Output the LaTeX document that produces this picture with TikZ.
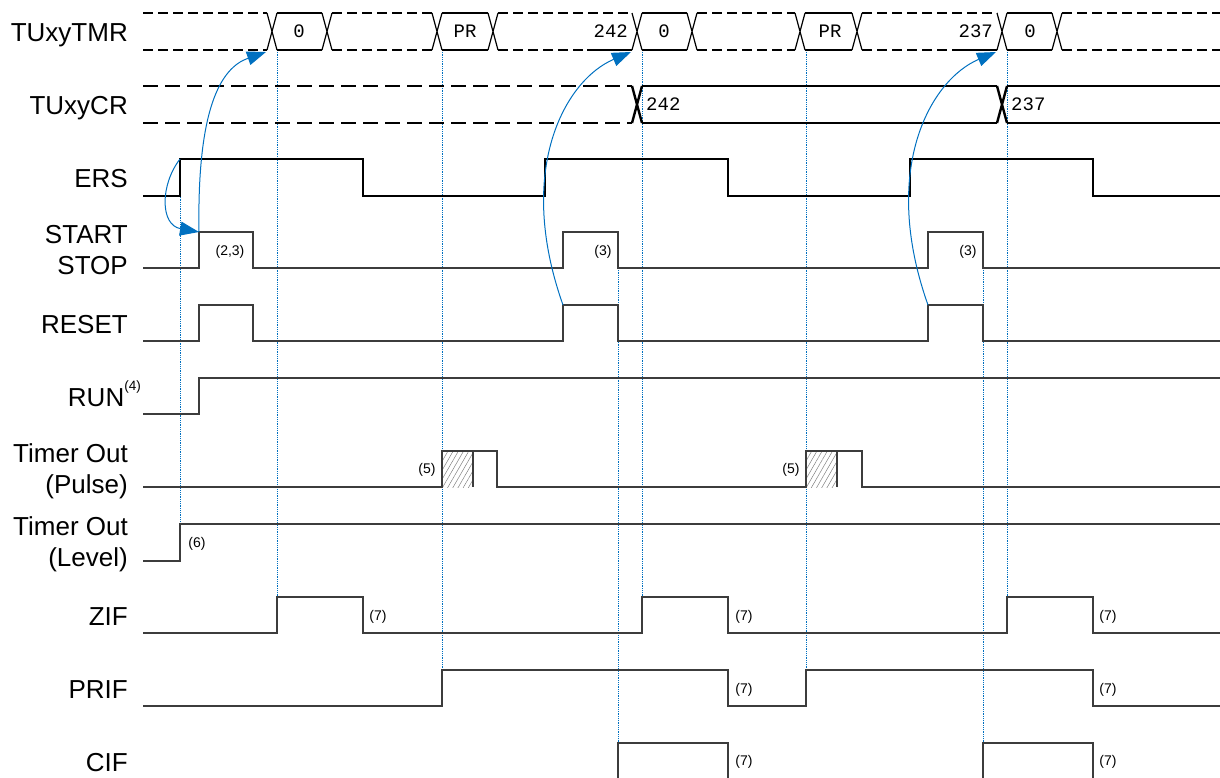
\documentclass[tikz,border=0pt]{standalone}
\usepackage{fontspec}
\setmainfont{Liberation Sans}
\setmonofont{Liberation Mono}
\usetikzlibrary{arrows.meta,patterns.meta}
\definecolor{tiblue}{RGB}{0,112,192}
\definecolor{wave}{RGB}{60,60,60}

\begin{document}
\begin{tikzpicture}[
    x=1pt, y=-1pt,
    lbl/.style={anchor=base east, inner sep=0pt, font=\fontsize{26}{31}\selectfont},
    lbltwo/.style={anchor=east, align=right, inner sep=0pt, font=\fontsize{26}{31}\selectfont},
    note/.style={inner sep=0pt, font=\fontsize{14}{15}\selectfont},
    val/.style={inner sep=0pt, font=\fontsize{19}{20}\selectfont\ttfamily},
    wire/.style={draw=wave, line width=1.2pt},
    thickwire/.style={draw=black, line width=2.4pt},
    buswire/.style={draw=black, line width=1.2pt},
    busdash/.style={buswire, dash pattern=on 10pt off 5pt},
    crdash/.style={thickwire, dash pattern=on 15pt off 7pt},
    guide/.style={draw=tiblue, line width=0.8pt, densely dotted},
    link/.style={draw=tiblue, line width=1pt, -{Triangle[length=19pt,width=14pt]}},
    hatched/.style={pattern={Lines[angle=60,distance=4.5pt,line width=0.5pt]}, pattern color=gray}
  ]
  \useasboundingbox (0,0) rectangle (1220,777);
  \clip (0,0) rectangle (1220,777);

  % signal names
  \node[lbl] (tmr) at (128,41) {TUxyTMR};
  \node[lbl] (cr) at (128,114) {TUxyCR};
  \node[lbl] (ers) at (128,187) {ERS};
  \node[lbltwo] (ss) at (128,250.5) {START\\STOP};
  \node[lbl] (rst) at (128,333) {RESET};
  \node[lbl] (run) at (141,406) {RUN\raisebox{16pt}{\fontsize{13.5}{14}\selectfont(4)}};
  \node[lbltwo] (pulse) at (128,471.5) {Timer Out\\(Pulse)};
  \node[lbltwo] (level) at (128,544.5) {Timer Out\\(Level)};
  \node[lbl] (zif) at (128,625) {ZIF};
  \node[lbl] (prif) at (128,698) {PRIF};
  \node[lbl] (cif) at (128,771) {CIF};

  % guide lines
  \foreach \x/\a/\b in {180/159/524, 277/50/597, 442/50/670, 618/268/743,
                        642/50/597, 806/50/670, 983/268/743, 1007/50/597}
    \draw[guide] (\x,\a) -- (\x,\b);

  % TUxyTMR bus
  \foreach \a/\b in {143/267, 332/432, 498/632, 697/795, 862/997, 1062/1220}
    \draw[busdash] (\a,13) -- (\b,13) (\a,50) -- (\b,50);
  \foreach \a/\b in {277/322, 442/488, 642/687, 805/852, 1007/1052}
    \draw[buswire] (\a,13) -- (\b,13) (\a,50) -- (\b,50);
  \draw[buswire] (587,50) -- (632,50) (952,50) -- (997,50);
  \foreach \c in {272,327,437,493,637,692,800,857,1002,1057}
    \draw[buswire] (\c-5,13) -- (\c+5,50) (\c-5,50) -- (\c+5,13);
  \node[val] (t0a) at (299,31.5) {0};
  \node[val] (tpra) at (465,31.5) {PR};
  \node[val, anchor=east] (tcnta) at (628,31.5) {242};
  \node[val] (t0b) at (664,31.5) {0};
  \node[val] (tprb) at (830,31.5) {PR};
  \node[val, anchor=east] (tcntb) at (993,31.5) {237};
  \node[val] (t0c) at (1030,31.5) {0};

  % TUxyCR bus
  \draw[crdash] (143,86) -- (632,86) (143,123) -- (632,123);
  \draw[thickwire] (642,86) -- (997,86) (642,123) -- (997,123)
    (1007,86) -- (1220,86) (1007,123) -- (1220,123);
  \foreach \c in {637,1002}
    \draw[thickwire] (\c-5,86) -- (\c+5,123) (\c-5,123) -- (\c+5,86);
  \node[val, anchor=west] (capa) at (646,104.5) {242};
  \node[val, anchor=west] (capb) at (1011,104.5) {237};

  % ERS
  \draw[thickwire] (143,196) -| (180,159) -| (363,196) -| (545,159) -| (728,196)
    -| (910,159) -| (1093,196) -- (1220,196);
  % START STOP
  \draw[wire] (143,268) -| (199,232) -| (253,268) -| (563,232) -| (618,268)
    -| (928,232) -| (983,268) -- (1220,268);
  % RESET
  \draw[wire] (143,341) -| (199,305) -| (253,341) -| (563,305) -| (618,341)
    -| (928,305) -| (983,341) -- (1220,341);
  % RUN
  \draw[wire] (143,414) -| (199,378) -- (1220,378);
  % Timer Out (Pulse)
  \fill[hatched] (442,451) rectangle (473,487);
  \fill[hatched] (806,451) rectangle (837,487);
  \draw[wire] (473,451) -- (473,487) (837,451) -- (837,487);
  \draw[wire] (143,487) -| (442,451) -| (497,487) -| (806,451) -| (862,487) -- (1220,487);
  % Timer Out (Level)
  \draw[wire] (143,561) -| (180,524) -- (1220,524);
  % ZIF
  \draw[wire] (143,633) -| (277,597) -| (363,633) -| (642,597) -| (728,633)
    -| (1007,597) -| (1093,633) -- (1220,633);
  % PRIF
  \draw[wire] (143,706) -| (442,670) -| (728,706) -| (806,670) -| (1093,706) -- (1220,706);
  % CIF
  \draw[wire] (143,779) -| (618,743) -| (728,779) -| (983,743) -| (1093,779) -- (1220,779);

  % footnote marks
  \node[note] (n23) at (230,252) {(2,3)};
  \node[note] (n3a) at (603,252) {(3)};
  \node[note] (n3b) at (968,252) {(3)};
  \node[note] (n5a) at (427,470) {(5)};
  \node[note] (n5b) at (791,470) {(5)};
  \node[note] (n6) at (197,544) {(6)};
  \foreach \x/\y [count=\i] in {378/617, 744/617, 1108/617, 744/690, 1108/690, 744/762, 1108/762}
    \node[note] (n7-\i) at (\x,\y) {(7)};

  % cause and effect
  \coordinate (ersup) at (180,159);
  \coordinate (ssup) at (199,232);
  \coordinate (rstupa) at (563,305);
  \coordinate (rstupb) at (928,305);
  \coordinate (tmrclr) at (266,52);
  \coordinate (tmrlda) at (631,52);
  \coordinate (tmrldb) at (996,52);
  \draw[link] (ersup) .. controls (160,185) and (160,225) .. (ssup);
  \draw[link] (ssup) .. controls (197,110) and (220,68) .. (tmrclr);
  \draw[link] (rstupa) .. controls (515,170) and (565,80) .. (tmrlda);
  \draw[link] (rstupb) .. controls (880,170) and (930,80) .. (tmrldb);
\end{tikzpicture}
\end{document}
